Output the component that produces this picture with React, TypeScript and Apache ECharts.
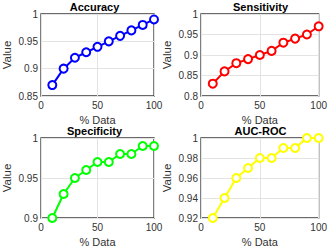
import React, { useEffect, useRef } from "react";
import * as echarts from "echarts";

const xData = [10, 20, 30, 40, 50, 60, 70, 80, 90, 100];
const accuracy = [0.87, 0.9, 0.92, 0.93, 0.94, 0.95, 0.96, 0.97, 0.98, 0.99];
const sensitivity = [0.83, 0.86, 0.88, 0.89, 0.9, 0.91, 0.93, 0.94, 0.95, 0.97];
const specificity = [0.9, 0.93, 0.95, 0.96, 0.97, 0.97, 0.98, 0.98, 0.99, 0.99];
const aucRoc = [0.92, 0.94, 0.96, 0.97, 0.98, 0.98, 0.99, 0.99, 1.0, 1.0];

const titles = ["Accuracy", "Sensitivity", "Specificity", "AUC-ROC"];
const seriesList = [accuracy, sensitivity, specificity, aucRoc];
const colors = ["#0000ff", "#ff0000", "#00ff00", "#ffff00"];
const yMins = [0.85, 0.8, 0.9, 0.92];
const yIntervals = [0.05, 0.05, 0.05, 0.02];

const font = "Liberation Sans, Arial, sans-serif";

export default function App() {
  const ref = useRef<HTMLDivElement>(null);
  useEffect(() => {
    if (!ref.current) return;
    const chart = echarts.init(ref.current, undefined, { renderer: "svg" });
    const lefts = [35, 201, 35, 201];
    const tops = [14, 14, 138, 138];
    const grids = lefts.map((l, i) => ({
      left: l,
      top: tops[i],
      width: 119,
      height: 82,
      show: true,
      borderColor: "#3a3a3a",
      borderWidth: 1.3,
      backgroundColor: "#ffffff",
    }));
    const xAxes = grids.map((_, i) => ({
      type: "value",
      gridIndex: i,
      min: 0,
      max: 100,
      interval: 50,
      name: "% Data",
      nameLocation: "middle",
      nameGap: 18,
      nameTextStyle: { fontFamily: font, fontSize: 11, color: "#333", lineHeight: 11 },
      axisLine: { show: false },
      axisTick: { show: false },
      axisLabel: { fontFamily: font, fontSize: 10, color: "#333", margin: 4 },
      splitLine: { show: true, lineStyle: { color: "#e3e3e3", width: 1 } },
    }));
    const yAxes = grids.map((_, i) => ({
      type: "value",
      gridIndex: i,
      min: yMins[i],
      max: 1,
      interval: yIntervals[i],
      name: "Value",
      nameLocation: "middle",
      nameGap: 28,
      nameTextStyle: { fontFamily: font, fontSize: 11.5, color: "#333" },
      axisLine: { show: false },
      axisTick: { show: false },
      axisLabel: {
        fontFamily: font,
        fontSize: 10,
        color: "#333",
        margin: 3,
        formatter: (v: number) => String(parseFloat(v.toFixed(4))),
      },
      splitLine: { show: true, lineStyle: { color: "#e3e3e3", width: 1 } },
    }));
    const series = seriesList.map((vals, i) => ({
      type: "line",
      xAxisIndex: i,
      yAxisIndex: i,
      data: xData.map((x, j) => [x, vals[j]]),
      symbol: "emptyCircle",
      symbolSize: 8,
      lineStyle: { color: colors[i], width: 2 },
      itemStyle: { color: colors[i], borderColor: colors[i], borderWidth: 2 },
      clip: false,
    }));
    const title = titles.map((t, i) => ({
      text: t,
      left: lefts[i] + 59.5,
      top: tops[i] - 13,
      padding: 0,
      textAlign: "center",
      textStyle: { fontFamily: font, fontSize: 11, fontWeight: "bold", color: "#000", lineHeight: 11 },
    }));
    chart.setOption({
      animation: false,
      backgroundColor: "#ffffff",
      title,
      grid: grids,
      xAxis: xAxes,
      yAxis: yAxes,
      series,
    });
    return () => chart.dispose();
  }, []);
  return (
    <div
      ref={ref}
      style={{ position: "fixed", left: 0, top: 0, width: 330, height: 248 }}
    />
  );
}
